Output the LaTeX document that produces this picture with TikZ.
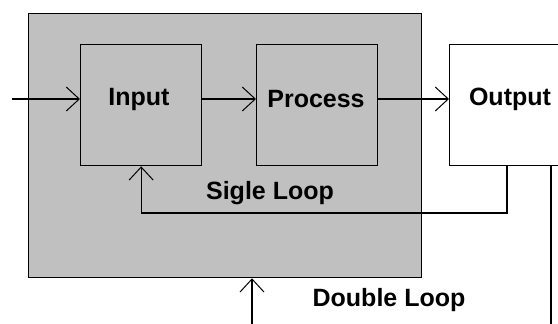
\documentclass[tikz,border=0pt]{standalone}
\usepackage{fontspec}
\setmainfont{Liberation Sans}
\usetikzlibrary{arrows.meta}
\definecolor{panelgray}{HTML}{C0C0C0}
\tikzset{
  blk/.style={draw=black, line width=1.3pt, anchor=north west, inner sep=0pt},
  lbl/.style={font=\fontsize{25}{28}\selectfont\bfseries, inner sep=0pt},
  conn/.style={draw=black, line width=1.3pt},
  arr/.style={conn, -{Straight Barb[length=13pt, width=24pt, line width=1pt]}}
}
\begin{document}
\begin{tikzpicture}[x=1pt, y=-1pt]
  \useasboundingbox (0,0) rectangle (558,324);
  \clip (0,0) rectangle (558,324);
  \fill[white] (0,0) rectangle (558,324);

  % shaded region holding the inner loop
  \node[blk, fill=panelgray, minimum width=393pt, minimum height=264pt] (outer) at (28,13) {};

  % the three stages
  \node[blk, minimum width=121pt, minimum height=121pt] (input) at (80,44) {};
  \node[blk, minimum width=121pt, minimum height=121pt] (process) at (256,44) {};
  \node[blk, fill=white, minimum width=130pt, minimum height=121pt] (output) at (449,44) {};

  \node[lbl] at (139,99) {Input};
  \node[lbl] at (316,99) {Process};
  \node[lbl] at (510,99) {Output};

  % forward path, drawn along one horizontal line
  \coordinate (src) at (12,99);
  \draw[arr] (src) -- (src -| input.west);
  \draw[arr] (src -| input.east) -- (src -| process.west);
  \draw[arr] (src -| process.east) -- (src -| output.west);

  % single loop feedback
  \coordinate (fb) at (507,213);
  \draw[arr] (fb |- output.south) -- (fb) -| (input.south);
  \node[lbl] (single) at (270,193) {Sigle Loop};

  % double loop feedback
  \coordinate (dl) at (551,340);
  \draw[conn] (dl |- output.south) -- (dl);
  \coordinate (db) at (252,340);
  \draw[arr] (db) -- (db |- outer.south);
  \node[lbl] (double) at (389,300) {Double Loop};
\end{tikzpicture}
\end{document}
